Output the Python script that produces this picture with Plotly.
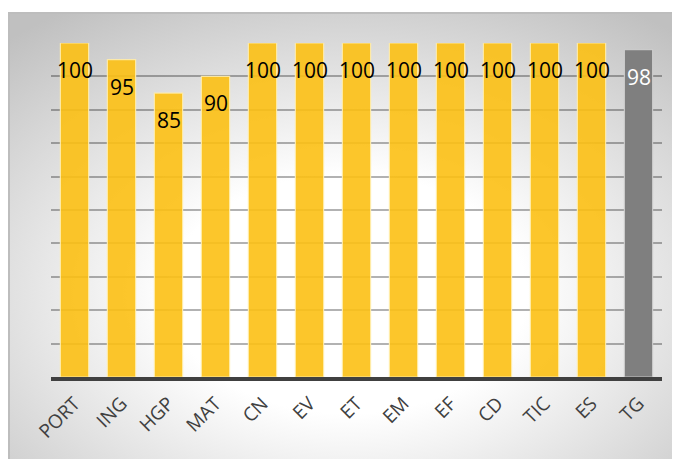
import base64

import plotly.graph_objects as go

categories = ['PORT', 'ING', 'HGP', 'MAT', 'CN', 'EV', 'ET', 'EM', 'EF', 'CD', 'TIC', 'ES', 'TG']
scores = [100, 95, 85, 90, 100, 100, 100, 100, 100, 100, 100, 100, 98]

GOLD = 'rgba(252,192,20,0.9)'
GREY = '#7f7f7f'
FONT = 'Open Sans'

bar_colors = [GREY if c == 'TG' else GOLD for c in categories]
line_colors = ['rgba(205,205,205,0.9)' if c == 'TG' else 'rgba(255,236,170,0.9)' for c in categories]
text_colors = ['white' if c == 'TG' else 'black' for c in categories]

# background: soft radial grey gradient with a thin border
svg = (
    "<svg xmlns='http://www.w3.org/2000/svg' width='680' height='455' "
    "viewBox='0 0 680 455' preserveAspectRatio='none'>"
    "<defs><radialGradient id='g' cx='50%' cy='62%' r='75%'>"
    "<stop offset='0' stop-color='#ffffff'/>"
    "<stop offset='0.35' stop-color='#ffffff'/>"
    "<stop offset='1' stop-color='#c0c0c0'/>"
    "</radialGradient></defs>"
    "<rect x='0' y='0' width='680' height='455' fill='url(#g)'/>"
    "<path d='M1 455 L1 1 L680 1' fill='none' stroke='#bdbdbd' stroke-width='2'/>"
    "</svg>"
)
bg_src = 'data:image/svg+xml;base64,' + base64.b64encode(svg.encode()).decode()

W, H = 680, 459
L, R, T, B = 43, 26, 35, 90
pw, ph = W - L - R, H - T - B

fig = go.Figure()
fig.add_trace(go.Bar(x=categories,
                     y=scores,
                     marker=dict(color=bar_colors,
                                 line=dict(color=line_colors, width=1.2)),
                     width=0.6,
                     hoverinfo='skip'))

for cat, val, col in zip(categories, scores, text_colors):
    fig.add_annotation(x=cat, y=val, text=str(val),
                       showarrow=False, yanchor='middle', yshift=-27,
                       font=dict(family=FONT, size=21, color=col))

fig.add_layout_image(dict(source=bg_src,
                          xref='paper', yref='paper',
                          x=-L / pw, y=(H - B - 4) / ph,
                          sizex=W / pw, sizey=(H - 4) / ph,
                          xanchor='left', yanchor='top',
                          sizing='stretch', layer='below'))

fig.update_layout(width=W, height=H,
                  margin=dict(l=L, r=R, t=T, b=B, pad=0),
                  paper_bgcolor='white',
                  plot_bgcolor='rgba(0,0,0,0)',
                  showlegend=False,
                  font=dict(family=FONT, color='#404040'),
                  xaxis=dict(type='category',
                             showgrid=False,
                             showline=True,
                             linecolor='#404040',
                             linewidth=4,
                             tickangle=-45,
                             ticks='',
                             ticklabelstandoff=4,
                             tickfont=dict(family=FONT, size=19, color='#404040')),
                  yaxis=dict(range=[0, 100],
                             dtick=10,
                             showticklabels=False,
                             showgrid=True,
                             gridcolor='rgba(0,0,0,0.3)',
                             gridwidth=1.5,
                             zeroline=False))

fig.write_html('out.html')
